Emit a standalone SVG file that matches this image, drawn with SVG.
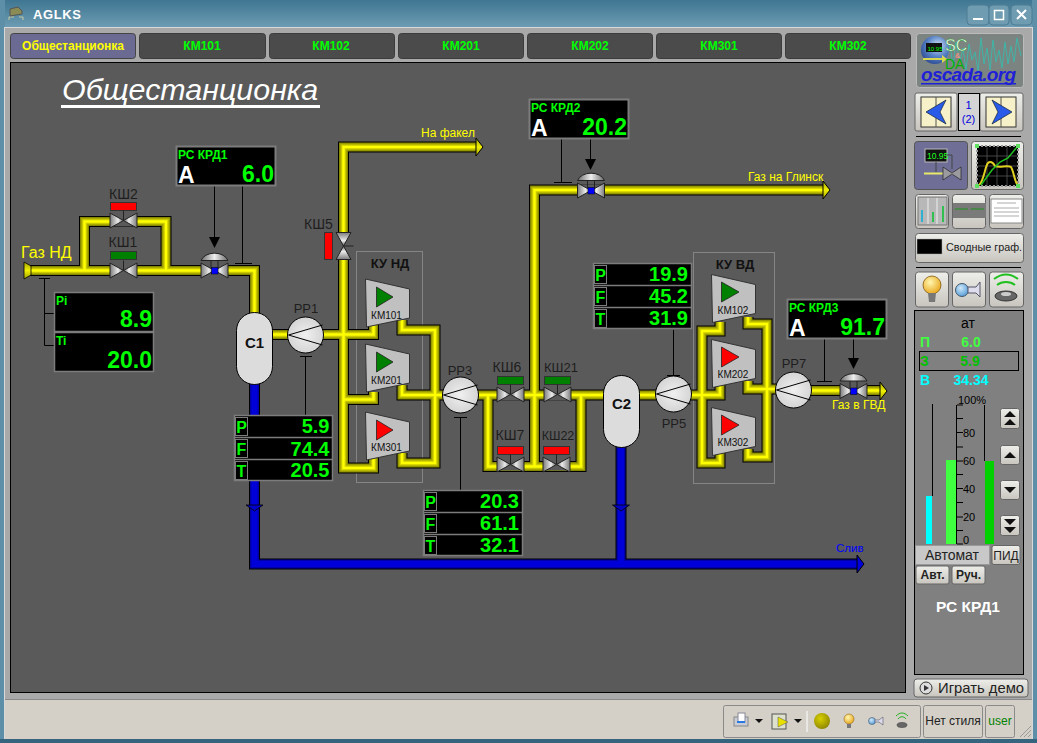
<svg xmlns="http://www.w3.org/2000/svg" xmlns:xlink="http://www.w3.org/1999/xlink" width="1037" height="743" viewBox="0 0 1037 743">
<style>
text{font-family:"Liberation Sans",Arial,sans-serif}
.tab{stroke:#3c3c3c;stroke-width:1;fill:#4b4b4b}
.tabt{font-size:12px;font-weight:bold;text-anchor:middle;fill:#00ff00}
.box{fill:#000;stroke:#7c7c7c;stroke-width:2}
.ln{stroke:#000;stroke-width:1;fill:none}
.lbl{font-size:14px;fill:#1e1e1e;text-anchor:middle}
.rr{font-size:13px;fill:#1e1e1e;text-anchor:middle}
.km{font-size:10px;fill:#111;text-anchor:middle}
.ylw{fill:#ffff00;font-size:12px}
.val{font-weight:bold;fill:#00ff00;text-anchor:end;font-size:23px}
.val2{font-weight:bold;fill:#00ff00;text-anchor:end;font-size:20px}
.hd{font-weight:bold;fill:#00ff00;font-size:12px}
.a{font-weight:bold;fill:#fff;font-size:23px}
.btn{fill:url(#btng);stroke:#666;stroke-width:1}
.pf{fill:#000;stroke:#7c7c7c;stroke-width:1.5}
.letter{font-weight:bold;fill:#00ff00;font-size:16px;text-anchor:middle}
.tk{stroke:#000;stroke-width:1}
.sc{font-size:11px;fill:#000}
.sec{fill:#dcdcdc;stroke:#000;stroke-width:1}
.cname{font-size:15px;font-weight:bold;fill:#111;text-anchor:middle}
.rp{fill:url(#rpg);stroke:#000;stroke-width:1}
.rl{stroke:#000;stroke-width:1;fill:none}
.comp{fill:#c0c0c0;stroke:#333;stroke-width:1}
.kt{font-size:13px;font-weight:bold;fill:#111;text-anchor:middle}
.flag{stroke:#333;stroke-width:1}
</style>
<defs>
<linearGradient id="title" x1="0" y1="0" x2="0" y2="1"><stop offset="0" stop-color="#3f7691"/><stop offset="1" stop-color="#6c9cb3"/></linearGradient>
<linearGradient id="btng" x1="0" y1="0" x2="0" y2="1"><stop offset="0" stop-color="#eeeeea"/><stop offset="1" stop-color="#c8c5be"/></linearGradient>
<linearGradient id="vg" x1="0" y1="0" x2="1" y2="0"><stop offset="0" stop-color="#7a7a7a"/><stop offset=".6" stop-color="#ececec"/><stop offset="1" stop-color="#666"/></linearGradient>
<linearGradient id="vg2" x1="1" y1="0" x2="0" y2="0"><stop offset="0" stop-color="#7a7a7a"/><stop offset=".6" stop-color="#ececec"/><stop offset="1" stop-color="#666"/></linearGradient>
<linearGradient id="dg" x1="0" y1="0" x2="1" y2="0"><stop offset="0" stop-color="#6a6a6a"/><stop offset=".5" stop-color="#eeeeee"/><stop offset="1" stop-color="#6a6a6a"/></linearGradient>
<linearGradient id="noz" x1="0" y1="0" x2="0" y2="1"><stop offset="0" stop-color="#a0a000"/><stop offset=".5" stop-color="#f0f000"/><stop offset="1" stop-color="#a0a000"/></linearGradient>
<radialGradient id="rpg" cx=".5" cy=".5" r=".6"><stop offset="0" stop-color="#f0f0f0"/><stop offset="1" stop-color="#cfcfcf"/></radialGradient>
<radialGradient id="sph" cx=".6" cy=".35" r=".75"><stop offset="0" stop-color="#cfe0f4"/><stop offset=".5" stop-color="#5a84c8"/><stop offset="1" stop-color="#24408a"/></radialGradient>
<radialGradient id="bulb" cx=".4" cy=".35" r=".7"><stop offset="0" stop-color="#fff7b0"/><stop offset="1" stop-color="#e8a418"/></radialGradient>
<radialGradient id="ball" cx=".4" cy=".35" r=".7"><stop offset="0" stop-color="#d0e8f8"/><stop offset="1" stop-color="#4f9ad8"/></radialGradient>
<radialGradient id="led" cx=".4" cy=".35" r=".7"><stop offset="0" stop-color="#d8d000"/><stop offset="1" stop-color="#8c8400"/></radialGradient>
<g id="valve"><rect x="-13" y="-6" width="26" height="12" fill="#5a5a5a"/><path d="M-13.500-7.500L0 0L-13.500 7.500Z" fill="url(#vg)" stroke="#222" stroke-width="1"/><path d="M13.500-7.500L0 0L13.500 7.500Z" fill="url(#vg2)" stroke="#222" stroke-width="1"/></g>
<g id="kvalve"><use xlink:href="#valve"/><path d="M0-10V0" stroke="#222" fill="none"/></g>
<g id="rvalve"><use xlink:href="#valve"/><path d="M-13.500-10A14 10 0 0 1 13.500-10Z" fill="url(#dg)" stroke="#222" stroke-width="1"/><path d="M-3.500-10V-3M3.500-10V-3" stroke="#222" fill="none"/><rect x="-3" y="-3" width="6.500" height="6.500" fill="#0000ff" stroke="#000" stroke-width=".5"/></g>
<g id="rp"><circle r="18" class="rp"/><path class="rl" d="M17-10L-17 0L17 10"/></g>
<path id="arr" d="M-5.500 0H5.500L0 11Z" fill="#000"/>
<g id="comp"><path class="comp" d="M0 0L44 10V39L1 48Z"/></g>
<g id="yp">
<path d="M30 270.500H254.500V315"/>
<path d="M84.500 270.500V221.500H166V270.500"/>
<path d="M272 334.500H343.500"/>
<path d="M477 147H343.500V468H373.500V458"/>
<path d="M343.500 334.500H373.500V322"/>
<path d="M343.500 399.500H373.500V392"/>
<path d="M402 320V330H435V463H402V453"/>
<path d="M402 385V395H604"/>
<path d="M488 395V466.500H581V395"/>
<path d="M824 190H534.500V466"/>
<path d="M639 395H702"/>
<path d="M702 395H720V385"/>
<path d="M720 322V331H702V463H720V453"/>
<path d="M748 317V324H767V457H748V449"/>
<path d="M748 381V389H793"/>
<path d="M793 390.500H881"/>
</g>
<g id="bp"><path d="M254.500 384V564H858"/><path d="M621 447V564"/></g>
</defs>

<rect width="1037" height="743" fill="#ababab"/>
<g id="window-frame">
<rect x="0" y="0" width="1037" height="27" fill="url(#title)"/>
<rect x="0" y="0" width="5" height="743" fill="#5d8fa8"/>
<rect x="1032" y="0" width="5" height="743" fill="#5d8fa8"/>
<rect x="0" y="739" width="1037" height="4" fill="#35657e"/>
<rect x="4.500" y="27.500" width="1028" height="711" fill="#a9a9a9" stroke="#d8d8d8"/>
<g fill="none" stroke="#c8c8a0" stroke-width="1"><path d="M9 20V17H14M19 17H23V20"/></g>
<path d="M10 9L18 7L22 11V14L10 16Z" fill="#8b8b55" stroke="#555"/>
<text x="33" y="19" font-size="13" font-weight="bold" fill="#fff" letter-spacing=".6">AGLKS</text>
<rect x="967" y="5" width="22" height="20" rx="4" fill="#6f9cb1" stroke="#4d7c94"/>
<path d="M973 19H983" stroke="#fff" stroke-width="2"/>
<rect x="989" y="5" width="20" height="20" rx="4" fill="#6f9cb1" stroke="#4d7c94"/>
<rect x="994.500" y="10.500" width="9" height="9" fill="none" stroke="#fff" stroke-width="1.500"/>
<rect x="1011" y="5" width="21" height="20" rx="4" fill="#6f9cb1" stroke="#4d7c94"/>
<path d="M1017 10L1026 19M1026 10L1017 19" stroke="#fff" stroke-width="2"/>
</g>

<g id="tabs">
<rect x="10.500" y="33.500" width="125" height="25" rx="3" fill="#6a6a92" stroke="#444"/>
<text x="73" y="50" class="tabt" style="fill:#ffff00">Общестанционка</text>
<rect class="tab" x="139.500" y="33.500" width="126" height="25" rx="3"/><text class="tabt" x="202" y="50">КМ101</text>
<rect class="tab" x="269.500" y="33.500" width="125" height="25" rx="3"/><text class="tabt" x="331" y="50">КМ102</text>
<rect class="tab" x="398.500" y="33.500" width="125" height="25" rx="3"/><text class="tabt" x="461" y="50">КМ201</text>
<rect class="tab" x="527.500" y="33.500" width="125" height="25" rx="3"/><text class="tabt" x="590" y="50">КМ202</text>
<rect class="tab" x="656.500" y="33.500" width="125" height="25" rx="3"/><text class="tabt" x="719" y="50">КМ301</text>
<rect class="tab" x="785.500" y="33.500" width="125" height="25" rx="3"/><text class="tabt" x="848" y="50">КМ302</text>
</g>

<rect id="main-panel" x="10.500" y="62.500" width="895" height="630" fill="#5a5a5a" stroke="#000"/>

<text id="title-text" x="62" y="100" font-size="30.400" font-style="italic" fill="#fff">Общестанционка</text>
<rect x="61" y="105" width="259" height="3" fill="#fff"/>

<g id="ku-frames" fill="none" stroke="#858585">
<rect x="356.500" y="251.500" width="66" height="231"/>
<rect x="693.500" y="252.500" width="81" height="231"/>
</g>

<g id="connectors">
<g fill="none" stroke-linejoin="miter">
<use xlink:href="#bp" stroke="#000" stroke-width="11"/>
<use xlink:href="#bp" stroke="#0000a8" stroke-width="9"/>
<use xlink:href="#bp" stroke="#0000d8" stroke-width="6"/>
<use xlink:href="#yp" stroke="#000" stroke-width="11"/>
<use xlink:href="#yp" stroke="#808000" stroke-width="9"/>
<use xlink:href="#yp" stroke="#a0a000" stroke-width="7.500"/>
<use xlink:href="#yp" stroke="#c0c000" stroke-width="5.500"/>
<use xlink:href="#yp" stroke="#e0e000" stroke-width="3.500"/>
<use xlink:href="#yp" stroke="#ffff00" stroke-width="2"/>
</g>
<path d="M24 262L31 266V275L24 279Z" fill="url(#noz)" stroke="#000" stroke-width=".8"/>
<path d="M476 138L483 147L476 156Z" fill="url(#noz)" stroke="#000"/>
<path d="M823 181L830 190L823 199Z" fill="url(#noz)" stroke="#000"/>
<path d="M880 382L887 391L880 400Z" fill="url(#noz)" stroke="#000"/>
<path d="M857 555L864 564L857 573Z" fill="#0000d8" stroke="#000"/>
<path d="M246 505H263L254.500 511Z" fill="#0000c8" stroke="#000" stroke-width=".8"/>
<path d="M612.500 505H629.500L621 511Z" fill="#0000c8" stroke="#000" stroke-width=".8"/>

<path class="ln" d="M214.500 186V240M242.500 186V263.500M235 263.500H252"/>
<use xlink:href="#arr" x="214.500" y="237"/>
<path class="ln" d="M561.500 139V182.500M554 182.500H572M590.500 139V162"/>
<use xlink:href="#arr" x="590.500" y="159"/>
<path class="ln" d="M824.500 339V381.500M817 381.500H832M853.500 339V361"/>
<use xlink:href="#arr" x="853.500" y="358"/>
<path class="ln" d="M39 278.500H50M44.500 278.500V345.500H54M44.500 313.500H54"/>
<path class="ln" d="M305.500 356.500V415M300 356.500H312"/>
<path class="ln" d="M460.500 417.500V490M454 417.500H467"/>
<path class="ln" d="M673.500 330V375.500M667 375.500H680"/>
</g>

<g id="val-KSH2"><text class="lbl" x="123.500" y="199">КШ2</text><rect class="flag" x="110.500" y="202.500" width="26" height="8" fill="#ff0000"/><use xlink:href="#kvalve" x="123.500" y="220.500"/></g>
<g id="val-KSH1"><text class="lbl" x="123" y="247">КШ1</text><rect class="flag" x="110.500" y="251.500" width="26" height="8" fill="#008000"/><use xlink:href="#kvalve" x="123.500" y="270.500"/></g>
<g id="val-KSH5"><text class="lbl" x="318.500" y="229">КШ5</text><rect class="flag" x="324.500" y="232.500" width="8" height="27" fill="#ff0000"/><g transform="translate(343.500 246) rotate(-90)"><use xlink:href="#valve"/><path d="M0 0V10" stroke="#222"/></g></g>
<g id="val-KSH6"><text class="lbl" x="507" y="372">КШ6</text><rect class="flag" x="497.500" y="376.500" width="26" height="8" fill="#008000"/><use xlink:href="#kvalve" x="510.500" y="394.500"/></g>
<g id="val-KSH21"><text class="lbl" x="561" y="372" style="font-size:13px">КШ21</text><rect class="flag" x="544.500" y="376.500" width="26" height="8" fill="#008000"/><use xlink:href="#kvalve" x="557.500" y="394.500"/></g>
<g id="val-KSH7"><text class="lbl" x="510" y="440">КШ7</text><rect class="flag" x="497.500" y="446.500" width="26" height="8" fill="#ff0000"/><use xlink:href="#kvalve" x="510.500" y="464.500"/></g>
<g id="val-KSH22"><text class="lbl" x="558" y="440" style="font-size:12.500px">КШ22</text><rect class="flag" x="543.500" y="446.500" width="26" height="8" fill="#ff0000"/><use xlink:href="#kvalve" x="556.500" y="464.500"/></g>

<g id="rc-krd1-valve"><use xlink:href="#rvalve" x="214.500" y="270.500"/></g>
<g id="rc-krd2-valve"><use xlink:href="#rvalve" x="591" y="190.500"/></g>
<g id="rc-krd3-valve"><use xlink:href="#rvalve" x="853.500" y="391"/></g>

<g id="C1"><rect class="sec" x="236.500" y="312.500" width="36" height="72" rx="18"/><text class="cname" x="254.500" y="348">С1</text></g>
<g id="C2"><rect class="sec" x="603.500" y="375.500" width="36" height="72" rx="18"/><text class="cname" x="621.500" y="409">С2</text></g>

<g id="RR1"><text class="rr" x="306" y="313">РР1</text><use xlink:href="#rp" x="305.500" y="335"/></g>
<g id="RR3"><text class="rr" x="460" y="375">РР3</text><use xlink:href="#rp" x="460.500" y="395"/></g>
<g id="RR5"><text class="rr" x="674" y="428">РР5</text><use xlink:href="#rp" x="673.500" y="394"/></g>
<g id="RR7"><text class="rr" x="794" y="368">РР7</text><use xlink:href="#rp" x="793.500" y="390"/></g>

<g id="KU-ND-label"><text class="kt" x="390" y="268">КУ НД</text></g>
<g id="KU-VD-label"><text class="kt" x="735" y="269">КУ ВД</text></g>

<g id="KM101"><use xlink:href="#comp" x="365.500" y="279"/><path d="M376.500 287V307L393 297Z" fill="#008000" stroke="#222" stroke-width=".8"/><text class="km" x="386.500" y="319">КМ101</text></g>
<g id="KM201"><use xlink:href="#comp" x="365.500" y="344"/><path d="M376.500 352V372L393 362Z" fill="#008000" stroke="#222" stroke-width=".8"/><text class="km" x="386.500" y="384">КМ201</text></g>
<g id="KM301"><use xlink:href="#comp" x="365.500" y="412"/><path d="M376.500 420V440L393 430Z" fill="#ff0000" stroke="#222" stroke-width=".8"/><text class="km" x="386.500" y="451">КМ301</text></g>
<g id="KM102"><use xlink:href="#comp" x="711.500" y="274.500"/><path d="M721.500 282V302L739 292Z" fill="#008000" stroke="#222" stroke-width=".8"/><text class="km" x="733" y="314">КМ102</text></g>
<g id="KM202"><use xlink:href="#comp" x="711.500" y="339.500"/><path d="M721.500 347V367L739 357Z" fill="#ff0000" stroke="#222" stroke-width=".8"/><text class="km" x="733" y="378">КМ202</text></g>
<g id="KM302"><use xlink:href="#comp" x="711.500" y="407.500"/><path d="M721.500 415V435L739 425Z" fill="#ff0000" stroke="#222" stroke-width=".8"/><text class="km" x="733" y="446">КМ302</text></g>

<g id="labels">
<text x="21" y="258" font-size="16" fill="#ffff00">Газ НД</text>
<text class="ylw" x="421" y="137">На факел</text>
<text class="ylw" x="748" y="181">Газ на Глинск</text>
<text class="ylw" x="832" y="409">Газ в ГВД</text>
<text x="836" y="552" font-size="11.500" fill="#0000ff">Слив</text>
</g>

<g id="rc-krd1"><rect class="box" x="176.500" y="146.500" width="99" height="39"/><text class="hd" x="178" y="158.500">РС КРД1</text><text class="a" x="178" y="183">А</text><text class="val" x="274" y="182">6.0</text></g>
<g id="rc-krd2"><rect class="box" x="529.500" y="99.500" width="99" height="39"/><text class="hd" x="531" y="111.500">РС КРД2</text><text class="a" x="531" y="136">А</text><text class="val" x="627" y="135">20.2</text></g>
<g id="rc-krd3"><rect class="box" x="787.500" y="299.500" width="99" height="39"/><text class="hd" x="789" y="311.500">РС КРД3</text><text class="a" x="789" y="336">А</text><text class="val" x="885" y="335">91.7</text></g>

<g id="pi-ti">
<rect class="pf" x="54.500" y="292.500" width="99" height="39"/><text class="hd" x="56" y="304.500">Pi</text><text class="val" x="152" y="327">8.9</text>
<rect class="pf" x="54.500" y="332.500" width="99" height="39"/><text class="hd" x="56" y="344.500">Ti</text><text class="val" x="152" y="368">20.0</text>
</g>

<g id="pft-1"><rect class="pf" x="234.500" y="415.500" width="98" height="65"/><path d="M234 437.500H333M234 459.500H333" stroke="#7c7c7c" stroke-width="1.500"/>
<g fill="none" stroke="#7c7c7c"><rect x="235.500" y="417.500" width="12" height="18"/><rect x="235.500" y="439.500" width="12" height="18"/><rect x="235.500" y="461.500" width="12" height="18"/></g>
<text class="letter" x="241.500" y="432.500">P</text><text class="letter" x="241.500" y="454.500">F</text><text class="letter" x="241.500" y="476.500">T</text>
<text class="val2" x="329.500" y="433">5.9</text><text class="val2" x="329.500" y="455.500">74.4</text><text class="val2" x="329.500" y="477">20.5</text></g>

<g id="pft-3"><rect class="pf" x="423.500" y="490.500" width="99" height="65"/><path d="M423 512.500H523M423 534.500H523" stroke="#7c7c7c" stroke-width="1.500"/>
<g fill="none" stroke="#7c7c7c"><rect x="424.500" y="492.500" width="12" height="18"/><rect x="424.500" y="514.500" width="12" height="18"/><rect x="424.500" y="536.500" width="12" height="18"/></g>
<text class="letter" x="430.500" y="507.500">P</text><text class="letter" x="430.500" y="529.500">F</text><text class="letter" x="430.500" y="551.500">T</text>
<text class="val2" x="519" y="508">20.3</text><text class="val2" x="519" y="530">61.1</text><text class="val2" x="519" y="552">32.1</text></g>

<g id="pft-5"><rect class="pf" x="593.500" y="263.500" width="98" height="65"/><path d="M593 285.500H692M593 307.500H692" stroke="#7c7c7c" stroke-width="1.500"/>
<g fill="none" stroke="#7c7c7c"><rect x="594.500" y="265.500" width="12" height="18"/><rect x="594.500" y="287.500" width="12" height="18"/><rect x="594.500" y="309.500" width="12" height="18"/></g>
<text class="letter" x="600.500" y="280.500">P</text><text class="letter" x="600.500" y="302.500">F</text><text class="letter" x="600.500" y="324.500">T</text>
<text class="val2" x="688" y="281">19.9</text><text class="val2" x="688" y="303">45.2</text><text class="val2" x="688" y="325">31.9</text></g>

<rect id="side-col" x="912" y="62" width="116" height="634" fill="#a9a9a9"/>

<g id="logo">
<rect x="916.500" y="33.500" width="107" height="54" rx="3" fill="#7b8480" stroke="#bbb"/>
<path d="M946 60L950 45L953 66L956 42L960 62L963 48L966 70L969 44L972 60L975 52L978 72L981 38L984 64L987 48L990 70L993 40L996 62L999 50L1002 68L1005 42L1008 64L1011 46L1014 62L1017 38L1021 56" fill="none" stroke="#3fb5a8" stroke-width="1"/>
<circle cx="935" cy="50" r="14" fill="url(#sph)"/>
<rect x="926" y="43" width="16" height="9" fill="#111"/><text x="927.500" y="50.500" font-size="6" fill="#0f0">10.95</text>
<path d="M923 59H943" stroke="#d8d850" stroke-width="2"/><path d="M942 55L947 59L942 63Z" fill="#d8d850"/>
<text x="945" y="51" font-size="16" fill="#fff" stroke="#1a9a1a" stroke-width=".4">SC</text>
<text x="955" y="57.500" font-size="7" font-weight="bold" fill="#f09080">&amp;</text>
<text x="945" y="69" font-size="14" fill="#00b000">DA</text>
<text x="921" y="81" font-size="19" font-weight="bold" font-style="italic" fill="#2020d8" textLength="95">oscada.org</text>
<rect x="921" y="83" width="95" height="1.500" fill="#2020d8"/>
</g>

<g id="nav">
<rect class="btn" x="915" y="93" width="42" height="38" rx="2"/>
<rect class="btn" x="980" y="93" width="43" height="38" rx="2"/>
<rect x="958.500" y="93.500" width="21" height="37" fill="#d4d4d4" stroke="#000"/>
<text x="968.500" y="109" font-size="11" fill="#0000e0" text-anchor="middle">1</text><text x="968.500" y="123" font-size="11" fill="#0000e0" text-anchor="middle">(2)</text>
<rect x="921" y="97" width="30" height="30" fill="#f6f1c8" stroke="#333"/><path d="M936 97V127" stroke="#555"/><path d="M946 100L926 112L946 124L940 112Z" fill="#2a5ae8" stroke="#123" stroke-width=".7"/>
<rect x="986" y="97" width="30" height="30" fill="#f6f1c8" stroke="#333"/><path d="M1001 97V127" stroke="#555"/><path d="M992 100L1012 112L992 124L998 112Z" fill="#2a5ae8" stroke="#123" stroke-width=".7"/>
<path d="M916 136.500H1021" stroke="#000"/>
</g>

<g id="view-btns">
<rect x="914.500" y="141.500" width="53" height="48" rx="3" fill="#6e6e96" stroke="#555"/>
<rect x="925" y="149" width="22" height="13" fill="#111" stroke="#bbb"/><text x="927" y="159" font-size="8.500" fill="#20ff20">10.95</text>
<path d="M936 162V172M947 155H952V169" stroke="#444" fill="none"/>
<path d="M924 173.500H960" stroke="#e8e86a" stroke-width="2"/>
<path d="M943 167L952 173L961 167V180L952 174L943 180Z" fill="#9a9aa0" stroke="#222" stroke-width=".7"/>
<rect class="btn" x="971.500" y="141.500" width="52" height="48" rx="3"/>
<rect x="977" y="146" width="41" height="40" fill="#000" stroke="#999" stroke-width="2" stroke-dasharray="2 2"/>
<path d="M977 156H1018M977 166H1018M977 176H1018M987 146V186M997 146V186M1007 146V186" stroke="#555" stroke-width=".8"/>
<path d="M979 185C984 181 985 166 988 163C990 161 993 162 995 166C999 168 1008 165 1011 167C1014 172 1014 180 1018 186" fill="none" stroke="#e0d020" stroke-width="2"/>
<path d="M981 185L992 170L1000 162L1008 158L1017 147" fill="none" stroke="#20c020" stroke-width="1.500"/>
<g fill="#60e060"><rect x="975" y="144" width="4" height="4"/><rect x="1016" y="144" width="4" height="4"/><rect x="975" y="184" width="4" height="4"/><rect x="1016" y="184" width="4" height="4"/></g>
<rect class="btn" x="915.500" y="194.500" width="33" height="34" rx="3"/>
<rect x="918" y="197" width="29" height="28" fill="#b8b8b8" stroke="#777"/><path d="M928 198V224M937 198V224" stroke="#eee"/><path d="M922 210V222" stroke="#30b0d0" stroke-width="2"/><path d="M933 212V222M943 206V222" stroke="#30c050" stroke-width="2"/>
<rect class="btn" x="952.500" y="194.500" width="33" height="34" rx="3"/>
<rect x="953" y="203" width="33" height="15" fill="#7a7a7a"/><path d="M955 209H968M971 209H984" stroke="#3c8c3c" stroke-width="1.500"/>
<rect class="btn" x="989.500" y="194.500" width="34" height="34" rx="3"/>
<rect x="991" y="199" width="31" height="24" fill="#fff" stroke="#888"/><path d="M997 203H1016M994 208H1019M994 212H1019M994 216H1019" stroke="#888" stroke-width=".7"/>
<rect class="btn" x="915.500" y="233.500" width="108" height="29" rx="3"/>
<rect x="917" y="239" width="25" height="15" fill="#000" stroke="#aaa" stroke-width=".5"/>
<text x="946" y="251" font-size="10.800" fill="#222">Сводные граф.</text>
<path d="M916 267.500H1021" stroke="#000"/>
</g>

<g id="sig-btns">
<rect class="btn" x="915.500" y="272" width="33" height="35" rx="3"/>
<circle cx="932" cy="285" r="9" fill="url(#bulb)" stroke="#805810" stroke-width=".8"/><path d="M928 293H936L935 302H929Z" fill="#777"/>
<rect class="btn" x="952.500" y="272" width="33" height="35" rx="3"/>
<circle cx="962" cy="290" r="6.500" fill="url(#ball)" stroke="#456"/><path d="M968 287H976L980 282V297L976 293H968Z" fill="#dde" stroke="#556"/>
<rect class="btn" x="989.500" y="272" width="34" height="35" rx="3"/>
<ellipse cx="1006" cy="296" rx="11" ry="5" fill="#666" stroke="#333"/><ellipse cx="1006" cy="294" rx="5" ry="2" fill="#ccc"/>
<path d="M997 285C1002 281 1010 281 1015 285M994 279C1002 273 1010 273 1018 279" fill="none" stroke="#20c020" stroke-width="2"/>
</g>

<g id="control-panel">
<rect x="914.500" y="310.500" width="109" height="364" fill="#808080" stroke="#000"/>
<text x="968" y="328" font-size="14" fill="#000" text-anchor="middle">ат</text>
<rect x="919.500" y="351.500" width="99" height="19" fill="none" stroke="#000"/>
<g font-size="14" font-weight="bold">
<text x="920" y="347" fill="#40ff40">П</text><text x="971" y="347" fill="#40ff40" text-anchor="middle">6.0</text>
<text x="920" y="366" fill="#00c000">З</text><text x="970" y="366" fill="#00c000" text-anchor="middle">5.9</text>
<text x="920" y="385" fill="#00ffff">В</text><text x="971" y="385" fill="#00ffff" text-anchor="middle">34.34</text>
</g>
<rect x="926" y="496" width="6" height="48" fill="#00ffff"/><path class="tk" d="M932.500 404V496"/>
<rect x="946" y="460" width="10" height="84" fill="#40ff40"/><path class="tk" d="M956.500 405V544"/>
<rect x="985" y="461" width="9" height="83" fill="#00d000"/><path class="tk" d="M984.500 405V461"/>
<path class="tk" d="M957 405H963M957 418.500H963M957 432.500H963M957 447H963M957 461H963M957 474.500H963M957 488.500H963M957 502.500H963M957 517H963M957 530.500H963M957 544H963"/>
<text class="sc" x="958" y="404">100%</text><text class="sc" x="963" y="437">80</text><text class="sc" x="963" y="465">60</text><text class="sc" x="963" y="493">40</text><text class="sc" x="963" y="521">20</text><text class="sc" x="963" y="544">0</text>
<rect class="btn" x="1000.500" y="408.500" width="19" height="20" rx="2"/><path d="M1004 417L1010 411L1016 417ZM1004 425L1010 419L1016 425Z" fill="#111"/>
<rect class="btn" x="1000.500" y="445.500" width="19" height="19" rx="2"/><path d="M1004 458L1010 452L1016 458Z" fill="#111"/>
<rect class="btn" x="1000.500" y="480.500" width="19" height="19" rx="2"/><path d="M1004 487L1010 493L1016 487Z" fill="#111"/>
<rect class="btn" x="1000.500" y="515.500" width="19" height="20" rx="2"/><path d="M1004 519L1010 525L1016 519ZM1004 527L1010 533L1016 527Z" fill="#111"/>
<rect x="915.500" y="545.500" width="74" height="19" fill="#c8c8c8" stroke="#999"/>
<text x="952" y="560" font-size="14" fill="#222" text-anchor="middle">Автомат</text>
<rect class="btn" x="992" y="545.500" width="28" height="19" rx="2"/>
<text x="1006" y="560" font-size="12" fill="#222" text-anchor="middle">ПИД</text>
<rect class="btn" x="916" y="566" width="33" height="18" rx="2"/><text x="932.500" y="579" font-size="12" font-weight="bold" fill="#222" text-anchor="middle">Авт.</text>
<rect class="btn" x="952" y="566" width="33" height="18" rx="2"/><text x="968.500" y="579" font-size="12" font-weight="bold" fill="#222" text-anchor="middle">Руч.</text>
<text x="968" y="612" font-size="15.500" font-weight="bold" fill="#fff" text-anchor="middle">РС КРД1</text>
</g>

<g id="demo-btn">
<rect class="btn" x="914" y="679" width="114" height="18" rx="3"/>
<circle cx="926" cy="688" r="6" fill="#ddd" stroke="#333"/><path d="M924 685V691L929 688Z" fill="#333"/>
<text x="938" y="693" font-size="14.800" fill="#222">Играть демо</text>
</g>

<g id="status-bar">
<rect x="5" y="700" width="1027" height="39" fill="#d4d0c8"/>
<path d="M5 699.500H1032" stroke="#8a8a8a"/>
<g fill="none" stroke="#8a8a8a"><rect x="723.500" y="705.500" width="197" height="32" rx="2"/><rect x="923.500" y="705.500" width="59" height="32" rx="2"/><rect x="985.500" y="705.500" width="29" height="32" rx="2"/></g>
<rect x="734" y="717" width="14" height="9" fill="#c8ccd4" stroke="#888"/><rect x="738" y="713" width="7" height="9" fill="#fff" stroke="#889"/><rect x="737" y="721" width="8" height="2" fill="#2a78e0"/>
<path d="M755 719H763L759 723Z" fill="#111"/>
<rect x="772" y="714" width="14" height="15" fill="#dde0cc" stroke="#555"/><path d="M778 717L788 722L778 727Z" fill="#e8e000" stroke="#555" stroke-width=".5"/>
<path d="M794 719H802L798 723Z" fill="#111"/>
<path d="M807 711V732" stroke="#fff"/>
<circle cx="822" cy="721" r="8" fill="url(#led)"/>
<circle cx="849" cy="719" r="5" fill="url(#bulb)" stroke="#805810" stroke-width=".5"/><path d="M847 724H851V728H847Z" fill="#777"/>
<circle cx="872" cy="721" r="3.500" fill="url(#ball)" stroke="#456" stroke-width=".6"/><path d="M875 720H879L883 717V725L879 722H875Z" fill="#dde" stroke="#556" stroke-width=".6"/>
<ellipse cx="902" cy="725" rx="5" ry="2.500" fill="#666" stroke="#333" stroke-width=".5"/><path d="M898 719C900 716 904 716 906 719M896 716C900 712 904 712 908 716" fill="none" stroke="#20b020" stroke-width="1"/>
<text x="953" y="725" font-size="12" fill="#222" text-anchor="middle">Нет стиля</text>
<text x="1000" y="725" font-size="12" fill="#008000" text-anchor="middle">user</text>
<path d="M1020 737L1031 726M1024 737L1031 730M1028 737L1031 734" stroke="#999"/>
</g>
</svg>
